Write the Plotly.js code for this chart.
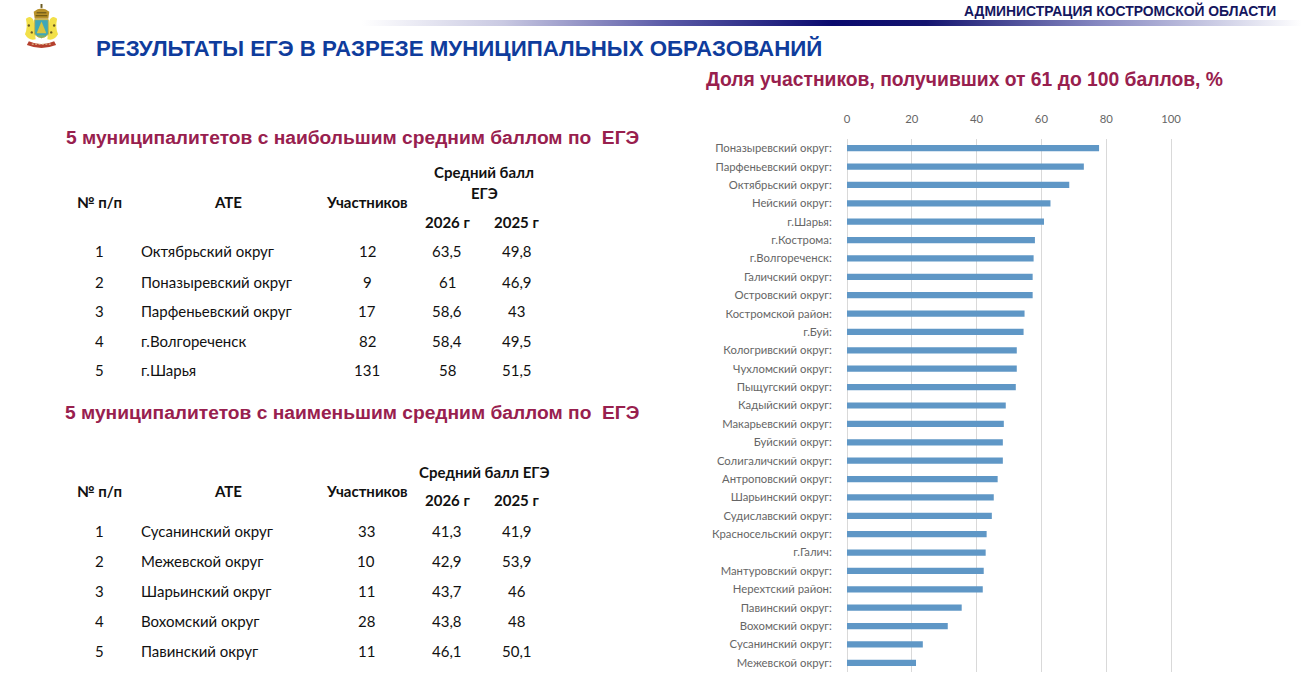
<!DOCTYPE html>
<html><head><meta charset="utf-8">
<script src="https://cdn.plot.ly/plotly-3.0.1.min.js"></script>
<style>html,body{margin:0;padding:0;background:#fff;overflow:hidden}#c{width:1308px;height:694px}</style>
</head><body><div id="c"></div>
<script>
const categories = ["Поназыревский округ:","Парфеньевский округ:","Октябрьский округ:","Нейский округ:","г.Шарья:","г.Кострома:","г.Волгореченск:","Галичский округ:","Островский округ:","Костромской район:","г.Буй:","Кологривский округ:","Чухломский округ:","Пыщугский округ:","Кадыйский округ:","Макарьевский округ:","Буйский округ:","Солигаличский округ:","Антроповский округ:","Шарьинский округ:","Судиславский округ:","Красносельский округ:","г.Галич:","Мантуровский округ:","Нерехтский район:","Павинский округ:","Вохомский округ:","Сусанинский округ:","Межевской округ:"];
const shares = [77.8,73.1,68.6,62.8,60.8,58.0,57.6,57.3,57.3,54.8,54.5,52.4,52.4,52.1,49.0,48.4,48.1,48.1,46.5,45.3,44.7,43.1,42.8,42.2,41.9,35.4,31.1,23.4,21.3];
const xTicks = [0,20,40,60,80,100];

const topNames = ["Октябрьский округ","Поназыревский округ","Парфеньевский округ","г.Волгореченск","г.Шарья"];
const topCounts = ["12","9","17","82","131"];
const top2026 = ["63,5","61","58,6","58,4","58"];
const top2025 = ["49,8","46,9","43","49,5","51,5"];

const lowNames = ["Сусанинский округ","Межевской округ","Шарьинский округ","Вохомский округ","Павинский округ"];
const lowCounts = ["33","10","11","28","11"];
const low2026 = ["41,3","42,9","43,7","43,8","46,1"];
const low2025 = ["41,9","53,9","46","48","50,1"];

const W=1308,H=694,UNIT=3.24,PADPX=2,L=847-PADPX,R=1171+PADPX,T=139,B=672;
const px=x=>(x-L)/(R-L), py=y=>(B-y)/(B-T);
const ann=[];
function text(x,y,t,o={}){
  ann.push({xref:'paper',yref:'paper',x:px(x),y:py(y),text:t,showarrow:false,borderpad:0,borderwidth:0,
    xanchor:o.a||'center',yanchor:'middle',
    font:{family:o.f||'Lato, sans-serif',size:o.s||15,color:o.c||'#111',weight:o.b?700:400}});
}
const HEAD='Liberation Sans, Arial, sans-serif';
text(1120,10,'АДМИНИСТРАЦИЯ КОСТРОМСКОЙ ОБЛАСТИ',{f:HEAD,s:13.9,c:'#14165e',b:1});
text(96,48,'РЕЗУЛЬТАТЫ ЕГЭ В РАЗРЕЗЕ МУНИЦИПАЛЬНЫХ ОБРАЗОВАНИЙ',{f:HEAD,s:22.3,c:'#0f3c9c',b:1,a:'left'});
text(706,79.5,'Доля участников, получивших от 61 до 100 баллов, %',{f:HEAD,s:19.3,c:'#98204e',b:1,a:'left'});
text(66,137.5,'5 муниципалитетов с наибольшим средним баллом по  ЕГЭ',{f:HEAD,s:19.2,c:'#98204e',b:1,a:'left'});
text(65,412.5,'5 муниципалитетов с наименьшим средним баллом по  ЕГЭ',{f:HEAD,s:19.2,c:'#98204e',b:1,a:'left'});

function table(names,counts,a,b,ys,rows,cntX){
  text(99,ys.head,'№ п/п',{b:1});
  text(228,ys.head,'АТЕ',{b:1});
  text(367,ys.head,'Участников',{b:1});
  text(447.5,ys.year,'2026 г',{b:1});
  text(516.5,ys.year,'2025 г',{b:1});
  names.forEach((n,i)=>{
    const y=rows[i];
    text(99,y,String(i+1));
    text(141,y,n,{a:'left'});
    text(cntX,y,counts[i]);
    text(447,y,a[i]);
    text(516.5,y,b[i]);
  });
}
text(484,172,'Средний балл',{b:1});
text(484,193,'ЕГЭ',{b:1});
table(topNames,topCounts,top2026,top2025,{head:202,year:222},[251.5,281.5,311,340.5,370],367);
text(484,472,'Средний балл ЕГЭ',{b:1});
table(lowNames,lowCounts,low2026,low2025,{head:490.5,year:500},[531,561,590.5,620.5,650.5],366);

const grad="<svg xmlns='http://www.w3.org/2000/svg' width='940' height='6'><defs><linearGradient id='g'><stop offset='0' stop-color='#ffffff'/><stop offset='.15' stop-color='#c9c9e2'/><stop offset='.32' stop-color='#5c5ca8'/><stop offset='.5' stop-color='#0a0a6e'/><stop offset='.6' stop-color='#14146f'/><stop offset='.78' stop-color='#8486c0'/><stop offset='1' stop-color='#ffffff'/></linearGradient></defs><rect width='940' height='6' fill='url(#g)'/></svg>";
const arms="<svg xmlns='http://www.w3.org/2000/svg' viewBox='0 0 38 47' width='38' height='47'><defs><filter id='b'><feGaussianBlur stdDeviation='0.45'/></filter></defs><g filter='url(#b)'>"+
"<path d='M3 15 Q8 11 11 17 L13 36 Q6 38 2 31 Q5 24 3 15Z' fill='#f2e04a'/><path d='M35 15 Q30 11 27 17 L25 36 Q32 38 36 31 Q33 24 35 15Z' fill='#f2e04a'/>"+
"<circle cx='6' cy='22' r='1.2' fill='#6a5a20'/><circle cx='9' cy='29' r='1.2' fill='#6a5a20'/><circle cx='32' cy='22' r='1.2' fill='#6a5a20'/><circle cx='29' cy='29' r='1.2' fill='#6a5a20'/>"+
"<path d='M12 15 L11 8 Q19 1 27 8 L26 15Z' fill='#b8912a'/><path d='M14 9 H24 M13 12 H25' stroke='#5a4a14' stroke-width='1'/><rect x='18' y='0' width='2' height='4' fill='#6a5a20'/>"+
"<path d='M12 16 H26 V31 Q19 38 12 31Z' fill='#3fa7b8' stroke='#c8b23a' stroke-width='1'/>"+
"<path d='M19 18 L24 30 H14Z' fill='#d7c43f'/><path d='M15 32 H23 L19 35Z' fill='#7fb06a'/>"+
"<path d='M6 38 Q19 44 32 38 L34 42 Q19 48 4 42Z' fill='#b5402f'/><path d='M9 41 H29' stroke='#e8d9a0' stroke-width='1' stroke-dasharray='2 1.5'/></g></svg>";
const uri=s=>'data:image/svg+xml;utf8,'+encodeURIComponent(s);

const axisFont={family:'Lato, sans-serif',size:11.3,color:'#666666'};
const layout={
  width:W,height:H,autosize:false,showlegend:false,paper_bgcolor:'#fff',plot_bgcolor:'#fff',
  margin:{l:L,r:W-R,t:T,b:H-B,pad:0},
  bargap:0.66,
  xaxis:{side:'top',range:[-PADPX/UNIT,100+PADPX/UNIT],tickvals:xTicks,ticktext:xTicks.map(String),
    showgrid:true,gridcolor:'#d9d9d9',gridwidth:1,zeroline:false,showline:false,
    ticks:'outside',ticklen:10,tickcolor:'rgba(0,0,0,0)',
    tickfont:axisFont},
  yaxis:{type:'category',categoryorder:'array',categoryarray:categories,autorange:'reversed',
    showgrid:false,zeroline:false,showline:false,
    ticks:'outside',ticklen:10,tickcolor:'rgba(0,0,0,0)',
    tickfont:axisFont},
  annotations:ann,
  images:[
    {source:uri(grad),xref:'paper',yref:'paper',x:px(362),y:py(20),sizex:940/(R-L),sizey:6/(B-T),xanchor:'left',yanchor:'top',sizing:'stretch',layer:'below'},
    {source:uri(arms),xref:'paper',yref:'paper',x:px(23),y:py(4),sizex:37/(R-L),sizey:46/(B-T),xanchor:'left',yanchor:'top',sizing:'stretch',layer:'below'}
  ]
};
Plotly.newPlot('c',[{type:'bar',orientation:'h',y:categories,x:shares,marker:{color:'#5f97c6'},hoverinfo:'x+y'}],layout,{displayModeBar:false,staticPlot:true});
</script></body></html>
